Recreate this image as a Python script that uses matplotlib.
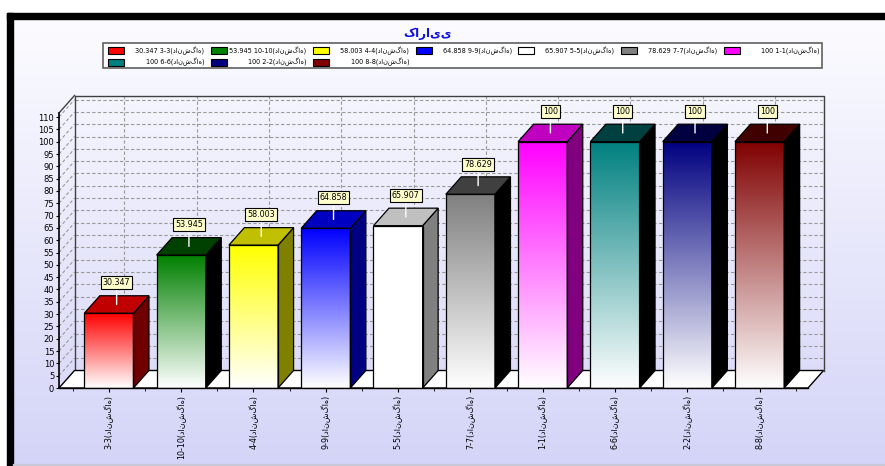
import numpy as np
import matplotlib
matplotlib.use('Agg')
import matplotlib.pyplot as plt
from matplotlib.patches import Polygon, Rectangle
from matplotlib.ticker import FixedLocator

# ---------------- data ----------------
categories = ["3-3", "10-10", "4-4", "9-9", "5-5", "7-7", "1-1", "6-6", "2-2", "8-8"]
values = [30.347, 53.945, 58.003, 64.858, 65.907, 78.629, 100, 100, 100, 100]
face_colors = ["#ff0000", "#008000", "#ffff00", "#0000ff", "#ffffff",
               "#808080", "#ff00ff", "#008080", "#000080", "#800000"]
top_colors = ["#c00000", "#004000", "#c0c000", "#0000c0", "#c0c0c0",
              "#404040", "#c000c0", "#004040", "#000040", "#400000"]
side_colors = ["#700000", "#000000", "#808000", "#000080", "#808080",
               "#000000", "#800080", "#000000", "#000000", "#000000"]
y_ticks = list(range(0, 111, 5))
title = "کارایی"
univ = "دانشگاه"

FONT = ['DejaVu Sans']
plt.rcParams['font.family'] = FONT

W, H = 885, 466
fig = plt.figure(figsize=(W / 100, H / 100), dpi=100, facecolor='white')


def fx(px):
    return px / W


def fy(py):
    return 1 - py / H


# ---------------- background ----------------
bg = fig.add_axes([fx(13), 0, 1 - fx(13), fy(19)])
g = np.linspace(0, 1, 256)[:, None, None]
c_top = np.array([252, 252, 255]) / 255
c_bot = np.array([212, 212, 248]) / 255
bg.imshow(c_top[None, None, :] * (1 - g) + c_bot[None, None, :] * g,
          aspect='auto', extent=[0, 1, 0, 1], origin='upper')
bg.axis('off')

# window frame
fig.patches.append(Rectangle((fx(7), fy(19)), 1 - fx(7), 6 / H,
                             transform=fig.transFigure, color='black', zorder=5))
fig.patches.append(Rectangle((fx(7), 0), 6 / W, fy(13),
                             transform=fig.transFigure, color='black', zorder=5))
fig.patches.append(Rectangle((fx(13), 0), 1 - fx(13), 2 / H,
                             transform=fig.transFigure, color='#c8c8d8', zorder=5))

# ---------------- main axes ----------------
YMAX = 111.65
XMIN, XMAX = -0.69, 9.67
ax = fig.add_axes([fx(59), fy(388), fx(808) - fx(59), (388 - 113) / H])
ax.patch.set_visible(False)
for s in ['top', 'right']:
    ax.spines[s].set_visible(False)
ax.spines['left'].set_linewidth(1.2)
ax.spines['bottom'].set_linewidth(1.0)
ax.spines['left'].set_zorder(5)
ax.spines['bottom'].set_zorder(5)

pos = ax.get_position()
ppx = pos.width * W / (XMAX - XMIN)
ppy = pos.height * H / YMAX
DX = 15.5 / ppx
DY = 17.5 / ppy

grid_kw = dict(ls=(0, (3, 2)), color='#999999', lw=0.8, clip_on=False, zorder=1)
# back wall and left wall grid
for v in y_ticks[1:]:
    ax.plot([XMIN + DX, XMAX + DX], [v + DY, v + DY], **grid_kw)
    ax.plot([XMIN, XMIN + DX], [v, v + DY], **grid_kw)
for i in range(len(categories)):
    ax.plot([i + DX, i + DX], [DY, YMAX + DY], **grid_kw)
# wall outline
ax.plot([XMIN + DX, XMIN + DX, XMAX + DX, XMAX + DX], [DY, YMAX + DY, YMAX + DY, DY],
        color='#404040', lw=1, clip_on=False, zorder=1.5)
ax.plot([XMIN, XMIN + DX], [YMAX, YMAX + DY], color='#404040', lw=1, clip_on=False, zorder=1.5)

# floor
ax.add_patch(Polygon([(XMIN, 0), (XMAX, 0), (XMAX + DX, DY), (XMIN + DX, DY)],
                     closed=True, fc='white', ec='black', lw=1, clip_on=False, zorder=2))

# bars
bw = 0.68
for i, (v, fc, tc, sc) in enumerate(zip(values, face_colors, top_colors, side_colors)):
    x0, x1 = i - bw / 2, i + bw / 2
    col = np.array(matplotlib.colors.to_rgb(fc))
    grad = col[None, None, :] * (1 - g) + np.ones(3)[None, None, :] * g
    ax.imshow(grad, extent=[x0, x1, 0, v], aspect='auto', origin='upper',
              interpolation='bilinear', zorder=3)
    ax.add_patch(Rectangle((x0, 0), bw, v, fill=False, ec='black', lw=0.9, zorder=4))
    ax.add_patch(Polygon([(x1, 0), (x1 + DX, DY), (x1 + DX, v + DY), (x1, v)],
                         closed=True, fc=sc, ec='black', lw=0.9, zorder=3, clip_on=False))
    ax.add_patch(Polygon([(x0, v), (x1, v), (x1 + DX, v + DY), (x0 + DX, v + DY)],
                         closed=True, fc=tc, ec='black', lw=0.9, zorder=3, clip_on=False))
    ax.annotate(f"{v:g}", xy=(i + DX / 2, v + DY / 2), xytext=(0, 15.5),
                textcoords='offset points', ha='center', va='center', fontsize=5.8,
                bbox=dict(boxstyle='square,pad=0.25', fc='#ffffcc', ec='black', lw=0.8),
                arrowprops=dict(arrowstyle='-', color='white', lw=1, shrinkA=0, shrinkB=0),
                zorder=6, annotation_clip=False)

ax.set_xlim(XMIN, XMAX)
ax.set_ylim(0, YMAX)
ax.set_xticks(range(len(categories)))
ax.set_xticklabels([f"{c}({univ})" for c in categories], rotation=90, fontsize=5.8)
ax.xaxis.set_minor_locator(FixedLocator([i - 0.5 for i in range(len(categories) + 1)]))
ax.tick_params(axis='x', which='major', length=3, pad=2)
ax.tick_params(axis='x', which='minor', length=2)
ax.set_yticks(y_ticks)
ax.set_yticklabels([str(t) for t in y_ticks], fontsize=6)
ax.tick_params(axis='y', length=2, pad=1.5)

# ---------------- title ----------------
fig.text(fx(428), fy(33), title, color='#1010e0', fontsize=8.5, fontweight='bold',
         ha='center', va='center')

# ---------------- legend ----------------
fig.patches.append(Rectangle((fx(103), fy(68)), fx(822) - fx(103), 25 / H,
                             transform=fig.transFigure, fc='white', ec='#606060', lw=1.2,
                             zorder=3))
for k, (c, v, fc) in enumerate(zip(categories, values, face_colors)):
    r, j = divmod(k, 7)
    x0 = 108 + 102.6 * j
    yc = 50.5 + 11.5 * r
    fig.patches.append(Rectangle((fx(x0), fy(yc + 3.5)), 16 / W, 7 / H,
                                 transform=fig.transFigure, fc=fc, ec='black', lw=0.8,
                                 zorder=4))
    fig.text(fx(x0 + 96), fy(yc), f"{v:g} {c}({univ})", fontsize=4.7,
             ha='right', va='center', zorder=4)

fig.savefig('out.png', dpi=100, facecolor='white')
